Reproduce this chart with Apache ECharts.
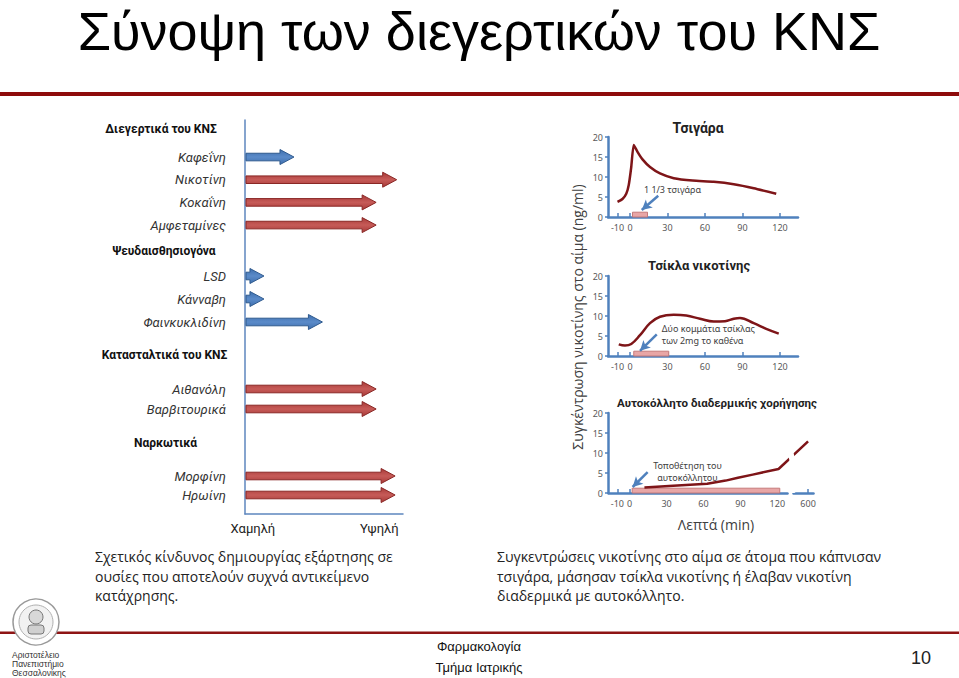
<!DOCTYPE html>
<html>
<head>
<meta charset="utf-8">
<script src="https://cdn.jsdelivr.net/npm/echarts@6/dist/echarts.min.js"></script>
<style>
html,body{margin:0;padding:0;background:#fff;}
#c{width:959px;height:678px;}
</style>
</head>
<body>
<div id="c"></div>
<script>
// ---------- data ----------
const groupTitles = ['Διεγερτικά του ΚΝΣ', 'Ψευδαισθησιογόνα', 'Κατασταλτικά του ΚΝΣ', 'Ναρκωτικά'];
const stimulants = ['Καφεΐνη', 'Νικοτίνη', 'Κοκαΐνη', 'Αμφεταμίνες'];
const stimulantRisk = [31, 96, 83, 83];
const hallucinogens = ['LSD', 'Κάνναβη', 'Φαινκυκλιδίνη'];
const hallucinogenRisk = [12, 12, 49];
const depressants = ['Αιθανόλη', 'Βαρβιτουρικά'];
const depressantRisk = [83, 83];
const narcotics = ['Μορφίνη', 'Ηρωίνη'];
const narcoticRisk = [95, 95];
const riskTickValues = [5, 85];
const riskTickLabels = ['Χαμηλή', 'Υψηλή'];

const minuteTicks = [-10, 0, 30, 60, 90, 120];
const patchMinuteTicks = [-10, 0, 30, 60, 90, 120, 600];
const concTicksMax = 20;

const chartTitles = ['Τσιγάρα', 'Τσίκλα νικοτίνης', 'Αυτοκόλλητο διαδερμικής χορήγησης'];

const cigMin  = [-10, -6, -3, -1, 1, 3, 6, 10, 16, 24, 35, 50, 67, 83, 99, 117];
const cigConc = [3.8, 4.5, 5.8, 8.0, 12.5, 18, 16.3, 14.4, 12.5, 10.9, 9.7, 9.1, 8.8, 8.2, 7.2, 5.8];
const gumMin  = [-9, -4, 1, 8, 16, 24, 35, 45, 56, 67, 76, 83, 88, 99, 109, 119];
const gumConc = [2.9, 2.6, 3.0, 5.2, 8.2, 9.8, 10.3, 10.1, 9.3, 8.6, 8.7, 9.3, 9.5, 8.2, 6.8, 5.6];
const patchMin  = [12, 32, 63, 78, 88, 100, 121, 600];
const patchConc = [1.4, 1.75, 2.3, 3.1, 3.8, 4.6, 6.0, 12.9];

const cigUse = [2, 14];
const gumUse = [3, 31];
const patchUse = [2, 122];

const cigNote = ['1 1/3 τσιγάρα'];
const gumNote = ['Δύο κομμάτια τσίκλας', 'των 2mg το καθένα'];
const patchNote = ['Τοποθέτηση του', 'αυτοκόλλητου'];

const yName = 'Συγκέντρωση νικοτίνης στο αίμα (ng/ml)';
const xName = 'Λεπτά (min)';
const slideTitle = 'Σύνοψη των διεγερτικών του ΚΝΣ';
const leftCaption = 'Σχετικός κίνδυνος δημιουργίας εξάρτησης σε\nουσίες που αποτελούν συχνά αντικείμενο\nκατάχρησης.';
const rightCaption = 'Συγκεντρώσεις νικοτίνης στο αίμα σε άτομα που κάπνισαν\nτσιγάρα, μάσησαν τσίκλα νικοτίνης ή έλαβαν νικοτίνη\nδιαδερμικά με αυτοκόλλητο.';
const footerLines = ['Φαρμακολογία', 'Τμήμα Ιατρικής'];
const pageNo = '10';
const uniLines = ['Αριστοτέλειο', 'Πανεπιστήμιο', 'Θεσσαλονίκης'];

// ---------- chart ----------
const chart = echarts.init(document.getElementById('c'), null, {renderer: 'svg'});

function renderArrow(params, api) {
  const v = api.value(0), i = api.value(1);
  const tip = api.coord([v, i]);
  const base = api.coord([0, i]);
  const blue = v < 60;
  const hl = 14, hh = 7.5, sh = 3.8;
  const x0 = base[0] + 1, x1 = tip[0], y = tip[1];
  const xn = Math.max(x1 - hl, x0 + 1);
  const pts = [[x0, y - sh], [xn, y - sh], [xn, y - hh], [x1, y], [xn, y + hh], [xn, y + sh], [x0, y + sh]];
  const fill = blue
    ? new echarts.graphic.LinearGradient(0, 0, 0, 1, [{offset: 0, color: '#3E6FAE'}, {offset: 0.5, color: '#5B8BC9'}, {offset: 1, color: '#3E6FAE'}])
    : new echarts.graphic.LinearGradient(0, 0, 0, 1, [{offset: 0, color: '#A83A38'}, {offset: 0.5, color: '#C65B58'}, {offset: 1, color: '#A83A38'}]);
  return {
    type: 'polygon',
    shape: {points: pts},
    style: {fill: fill, stroke: blue ? '#2F5A8E' : '#8A2725', lineWidth: 1}
  };
}

const groups = [
  {names: stimulants, risk: stimulantRisk, top: 145.7, h: 90.7},
  {names: hallucinogens, risk: hallucinogenRisk, top: 264.5, h: 69},
  {names: depressants, risk: depressantRisk, top: 379, h: 40},
  {names: narcotics, risk: narcoticRisk, top: 466.5, h: 38}
];

const grids = [{left: 245, top: 120, width: 158, height: 394}];
const xAxes = [{
  type: 'value', gridIndex: 0, min: 0, max: 100,
  axisLine: {show: true, onZero: false, lineStyle: {color: '#5E86BE', width: 1.5}},
  axisTick: {show: false}, splitLine: {show: false},
  axisLabel: {
    customValues: riskTickValues,
    formatter: function (v) { return riskTickLabels[riskTickValues.indexOf(v)]; },
    color: '#222', fontFamily: 'Roboto', fontSize: 13, margin: 8
  }
}];
const yAxes = [{
  type: 'value', gridIndex: 0, min: 0, max: 1,
  axisLine: {show: true, onZero: false, lineStyle: {color: '#5E86BE', width: 1.5}},
  axisTick: {show: false}, axisLabel: {show: false}, splitLine: {show: false}
}];
const series = [];

groups.forEach(function (g, k) {
  const gi = k + 1;
  grids.push({left: 245, top: g.top, width: 158, height: g.h});
  xAxes.push({type: 'value', gridIndex: gi, min: 0, max: 100, show: false});
  yAxes.push({
    type: 'category', gridIndex: gi, data: g.names, inverse: true,
    axisLine: {show: false}, axisTick: {show: false}, splitLine: {show: false},
    axisLabel: {fontStyle: 'italic', fontFamily: 'Roboto', fontSize: 13, color: '#333', margin: 19}
  });
  series.push({
    type: 'custom', xAxisIndex: gi, yAxisIndex: gi,
    data: g.risk.map(function (v, i) { return [v, i]; }),
    encode: {x: 0, y: 1},
    renderItem: renderArrow, silent: true, animation: false
  });
});

// right-hand nicotine charts
const axisBlue = '#4F81BD';
const tickFont = {color: '#595959', fontFamily: 'Noto Sans', fontSize: 9};
const rightCharts = [
  {top: 137, width: 190, max: 134.4, ticks: minuteTicks, min: cigMin, conc: cigConc, smooth: 0.18, use: cigUse,
   note: cigNote, notePos: [[34, 6.8]], noteAlign: 'center', arrow: [[22.6, 5.3], [9.4, 1.75]]},
  {top: 276, width: 190, max: 134.4, ticks: minuteTicks, min: gumMin, conc: gumConc, smooth: 0.4, use: gumUse,
   note: gumNote, notePos: [[25.4, 6.9], [25.4, 3.9]], noteAlign: 'left', arrow: [[21.4, 5.4], [8, 1.3]]},
  {top: 413, width: 205, max: 604, ticks: patchMinuteTicks, min: patchMin, conc: patchConc, smooth: false, use: patchUse,
   note: patchNote, notePos: [[47, 7.0], [47, 4.0]], noteAlign: 'center', arrow: [[14.6, 5.2], [2.4, 1.5]], broken: true}
];

rightCharts.forEach(function (c, k) {
  const gi = 5 + k;
  grids.push({left: 608, top: c.top, width: c.width, height: 80});
  const xa = {
    type: 'value', gridIndex: gi, min: -17.6, max: c.max,
    axisLine: {show: true, onZero: false, lineStyle: {color: axisBlue, width: 2.5}},
    axisTick: {show: true, inside: true, length: 4, customValues: c.ticks, lineStyle: {color: axisBlue, width: 1.5}},
    axisLabel: Object.assign({customValues: c.ticks, margin: 6}, tickFont),
    splitLine: {show: false}
  };
  if (c.broken) {
    xa.breaks = [{start: 128, end: 588, gap: '3%'}];
    xa.breakArea = {show: true, expandOnClick: false, zigzagAmplitude: 2, zigzagZ: 100,
      itemStyle: {color: '#ffffff', borderColor: '#ffffff', borderWidth: 0, opacity: 1}};
  }
  xAxes.push(xa);
  yAxes.push({
    type: 'value', gridIndex: gi, min: 0, max: concTicksMax, interval: 5,
    axisLine: {show: true, onZero: false, lineStyle: {color: axisBlue, width: 2.5}},
    axisTick: {show: true, length: 3, lineStyle: {color: axisBlue, width: 1.5}},
    axisLabel: Object.assign({margin: 5}, tickFont),
    splitLine: {show: false}
  });
  series.push({
    type: 'line', xAxisIndex: gi, yAxisIndex: gi,
    data: c.min.map(function (m, i) { return [m, c.conc[i]]; }),
    smooth: c.smooth, symbol: 'none', animation: false, z: 3,
    lineStyle: {color: '#7E1518', width: 2.5},
    markArea: {
      silent: true,
      itemStyle: {color: '#E8A6A6', borderColor: '#C57A7A', borderWidth: 1, opacity: 1},
      label: {show: false},
      data: [[{coord: [c.use[0], 0]}, {coord: [c.use[1], 1.2]}]]
    },
    markLine: {
      silent: true, symbol: ['none', 'arrow'], symbolSize: [8, 10],
      lineStyle: {color: axisBlue, width: 2.5, type: 'solid'},
      label: {show: false},
      data: [[{coord: c.arrow[0]}, {coord: c.arrow[1]}]]
    },
    markPoint: {
      silent: true, symbol: 'rect', symbolSize: 1,
      itemStyle: {color: 'rgba(0,0,0,0)'},
      label: {show: true, position: 'inside', formatter: '{b}', color: '#404040',
        fontFamily: 'Noto Sans', fontSize: 9, lineHeight: 10, align: c.noteAlign},
      data: c.note.map(function (t, i) { return {name: t, coord: c.notePos[i]}; })
    }
  });
});

const sideFont = '"Open Sans", "Noto Sans", sans-serif';
const lsans = '"Liberation Sans", Arial, sans-serif';
const graphic = [
  {type: 'text', x: 479, y: 31, style: {text: slideTitle, font: '54px ' + lsans, fill: '#000', align: 'center', verticalAlign: 'middle'}},
  {type: 'rect', shape: {x: 0, y: 92, width: 959, height: 4}, style: {fill: '#8E0B0B'}},
  // group headings
  {type: 'text', x: 161, y: 129, style: {text: groupTitles[0], font: 'bold 12px Roboto', fill: '#111', align: 'center', verticalAlign: 'middle'}},
  {type: 'text', x: 164, y: 251, style: {text: groupTitles[1], font: 'bold 12px Roboto', fill: '#111', align: 'center', verticalAlign: 'middle'}},
  {type: 'text', x: 164.5, y: 355, style: {text: groupTitles[2], font: 'bold 12px Roboto', fill: '#111', align: 'center', verticalAlign: 'middle'}},
  {type: 'text', x: 165.5, y: 443, style: {text: groupTitles[3], font: 'bold 12px Roboto', fill: '#111', align: 'center', verticalAlign: 'middle'}},
  // right chart titles
  {type: 'text', x: 698, y: 128, style: {text: chartTitles[0], font: 'bold 14px Roboto', fill: '#222', align: 'center', verticalAlign: 'middle'}},
  {type: 'text', x: 699, y: 265, style: {text: chartTitles[1], font: 'bold 13px Roboto', fill: '#222', align: 'center', verticalAlign: 'middle'}},
  {type: 'text', x: 717, y: 403, style: {text: chartTitles[2], font: 'bold 11.5px Roboto', fill: '#222', align: 'center', verticalAlign: 'middle'}},
  // axis names
  {type: 'text', x: 577, y: 317, rotation: Math.PI / 2, style: {text: yName, font: '14px ' + sideFont, fill: '#404040', align: 'center', verticalAlign: 'middle'}},
  {type: 'text', x: 716, y: 524, style: {text: xName, font: '14px ' + sideFont, fill: '#404040', align: 'center', verticalAlign: 'middle'}},
  // captions
  {type: 'text', x: 95, y: 547, style: {text: leftCaption, font: '14px ' + sideFont, fill: '#222', lineHeight: 19.5, align: 'left', verticalAlign: 'top'}},
  {type: 'text', x: 497, y: 547, style: {text: rightCaption, font: '14px ' + sideFont, fill: '#222', lineHeight: 19.5, align: 'left', verticalAlign: 'top'}},
  // footer
  {type: 'rect', shape: {x: 0, y: 631.5, width: 959, height: 2.5}, style: {fill: '#8E1414'}},
  {type: 'text', x: 479, y: 646, style: {text: footerLines[0], font: '13px ' + lsans, fill: '#111', align: 'center', verticalAlign: 'middle'}},
  {type: 'text', x: 479, y: 667, style: {text: footerLines[1], font: '13px ' + lsans, fill: '#111', align: 'center', verticalAlign: 'middle'}},
  {type: 'text', x: 921, y: 658, style: {text: pageNo, font: '18px ' + lsans, fill: '#222', align: 'center', verticalAlign: 'middle'}},
  // logo
  {type: 'circle', shape: {cx: 36, cy: 622, r: 23}, style: {fill: '#fff', stroke: '#9a9a9a', lineWidth: 1.5}},
  {type: 'circle', shape: {cx: 36, cy: 622, r: 17}, style: {fill: '#f2f2f2', stroke: '#b0b0b0', lineWidth: 1}},
  {type: 'circle', shape: {cx: 36, cy: 617, r: 7}, style: {fill: '#d8d8d8', stroke: '#777', lineWidth: 1}},
  {type: 'rect', shape: {x: 28, y: 625, width: 16, height: 9, r: 3}, style: {fill: '#d0d0d0', stroke: '#777', lineWidth: 1}},
  {type: 'text', x: 12, y: 655, style: {text: uniLines[0], font: '8.5px ' + lsans, fill: '#333', align: 'left', verticalAlign: 'middle'}},
  {type: 'text', x: 12, y: 664, style: {text: uniLines[1], font: '8.5px ' + lsans, fill: '#333', align: 'left', verticalAlign: 'middle'}},
  {type: 'text', x: 12, y: 673, style: {text: uniLines[2], font: '8.5px ' + lsans, fill: '#333', align: 'left', verticalAlign: 'middle'}}
];

chart.setOption({
  backgroundColor: '#ffffff',
  animation: false,
  grid: grids,
  xAxis: xAxes,
  yAxis: yAxes,
  series: series,
  graphic: graphic
});
</script>
</body>
</html>
